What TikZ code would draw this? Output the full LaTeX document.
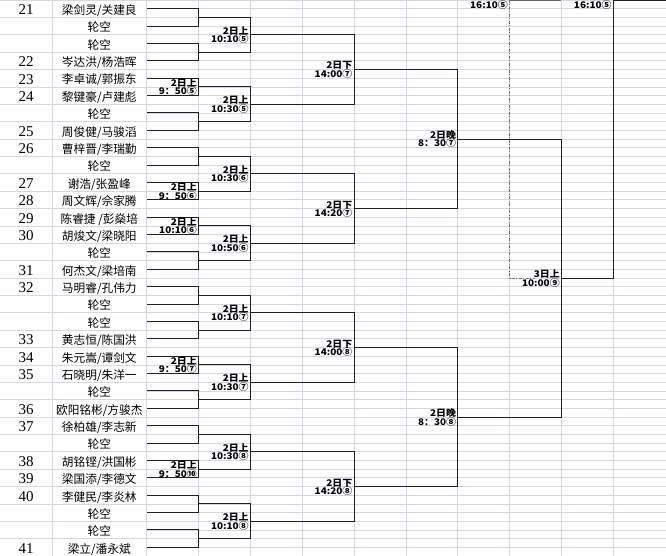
\documentclass[tikz,border=0pt]{standalone}
\usepackage{fontspec}
\setmainfont{Liberation Serif}
\newfontfamily\cjkf{Noto Sans CJK SC}
\newfontfamily\lblf{Noto Sans CJK SC}[FakeStretch=1.08]
\definecolor{gridc}{HTML}{D2D8E6}
\definecolor{linec}{HTML}{202020}
\newcommand\pentry[3]{\node[nm] (t#1) at (99.3,{#1*17.375+14.5}) {#3};
  \node[num] (k#1) at (26,{#1*17.375+14.6}) {#2};}
\newcommand\pbye[1]{\node[nm] (t#1) at (99.3,{#1*17.375+14.5}) {轮空};}
\newcommand\pairbox[1]{\pgfmathtruncatemacro\pb{#1+1}%
  \coordinate (p#1) at (198.54,{(#1+1)*17.375});
  \draw[br] (s#1) -| (p#1) |- (s\pb);
  \draw[br] (p#1) -- ++(51.84,0);}
\newcommand\rtwo[1]{\pgfmathtruncatemacro\pc{#1+2}%
  \coordinate (r#1) at (250.38,{(#1+2)*17.375});
  \draw[br] (p#1) -| (r#1) |- (p\pc);}
\newcommand\twolab[4]{\node[lb] (#1a) at ([shift={(-1.5pt,0.5pt)}]#2) {#3};
  \node[lb] (#1b) at ([shift={(-1.5pt,-8pt)}]#2) {#4};}
\begin{document}
\begin{tikzpicture}[x=1pt,y=-1pt,
  grid/.style={draw=gridc, line width=0.7pt},
  br/.style={draw=linec, line width=0.9pt},
  dd/.style={draw=black!55, line width=0.9pt, dash pattern=on 3pt off 1.5pt on 1pt off 1.5pt},
  num/.style={font=\fontsize{15}{15}\selectfont, anchor=base, inner sep=0pt},
  nm/.style={font=\cjkf\fontsize{11.7}{12}\selectfont, anchor=base, inner sep=0pt},
  lb/.style={font=\lblf\bfseries\fontsize{9.2}{9}\selectfont, anchor=base east, inner sep=0pt}]
\fill[white] (0,0) rectangle (666,556);
\useasboundingbox (0,0) rectangle (666,556);
% grid
\foreach \k in {0,...,31} \draw[grid] (0,{\k*17.375}) -- (146.7,{\k*17.375});
\foreach \k in {0,...,63} \draw[grid] (146.7,{\k*8.6875}) -- (666,{\k*8.6875});
\draw[grid] (52,0) -- (52,556);
\foreach \n in {0,...,9} \draw[grid] ({146.7+\n*51.84},0) -- ({146.7+\n*51.84},556);
% entries
\pentry{0}{21}{梁剑灵/关建良}
\pbye{1}
\pbye{2}
\pentry{3}{22}{岑达洪/杨浩晖}
\pentry{4}{23}{李卓诚/郭振东}
\pentry{5}{24}{黎键豪/卢建彪}
\pbye{6}
\pentry{7}{25}{周俊健/马骏滔}
\pentry{8}{26}{曹梓晋/李瑞勤}
\pbye{9}
\pentry{10}{27}{谢浩/张盈峰}
\pentry{11}{28}{周文辉/佘家腾}
\pentry{12}{29}{陈睿捷 /彭燊培}
\pentry{13}{30}{胡焌文/梁晓阳}
\pbye{14}
\pentry{15}{31}{何杰文/梁培南}
\pentry{16}{32}{马明睿/孔伟力}
\pbye{17}
\pbye{18}
\pentry{19}{33}{黄志恒/陈国洪}
\pentry{20}{34}{朱元嵩/谭剑文}
\pentry{21}{35}{石晓明/朱洋一}
\pbye{22}
\pentry{23}{36}{欧阳铭彬/方骏杰}
\pentry{24}{37}{徐柏雄/李志新}
\pbye{25}
\pentry{26}{38}{胡铭铿/洪国彬}
\pentry{27}{39}{梁国添/李德文}
\pentry{28}{40}{李健民/李炎林}
\pbye{29}
\pbye{30}
\pentry{31}{41}{梁立/潘永斌}
% start points
\foreach \r in {0,...,31} \coordinate (s\r) at (146.7,{\r*17.375+8.6875});
% round 1
\foreach \a in {0,2,4,6,8,10,12,14,16,18,20,22,24,26,28,30} {\pairbox{\a}}
% round 2
\foreach \a in {0,4,8,12,16,20,24,28} {\rtwo{\a}}
% round 3
\coordinate (u0) at (354.06,{4*17.375});
\coordinate (u1) at (354.06,{12*17.375});
\coordinate (u2) at (354.06,{20*17.375});
\coordinate (u3) at (354.06,{28*17.375});
\draw[br] (r0) -| (u0) |- (r4);
\draw[br] (r8) -| (u1) |- (r12);
\draw[br] (r16) -| (u2) |- (r20);
\draw[br] (r24) -| (u3) |- (r28);
% semis
\coordinate (v0) at (457.74,{8*17.375});
\coordinate (v1) at (457.74,{24*17.375});
\draw[br] (u0) -| (v0) |- (u1);
\draw[br] (u2) -| (v1) |- (u3);
% final
\coordinate (w) at (561.42,{16*17.375});
\draw[br] (v0) -| (w) |- (v1);
\coordinate (z) at (613.26,0.5);
\coordinate (zr) at (666,0.5);
\draw[br] (w) -| (z) -- (zr);
\coordinate (zl) at (509.58,0.5);
\coordinate (zm) at (561.42,0.5);
\draw[br, draw=black!60] (zl) -- (zm);
% dash-dot
\coordinate (d0) at (509.58,0);
\coordinate (d1) at (509.58,{16*17.375});
\coordinate (d2) at (535,{16*17.375});
\draw[dd] (d0) -- (d1) -- (d2);
% labels
\twolab{A1}{p4}{2日上}{9：50⑤}
\twolab{A2}{r0}{2日上}{10:10⑤}
\twolab{A3}{r4}{2日上}{10:30⑤}
\twolab{A4}{u0}{2日下}{14:00⑦}
\twolab{B1}{p10}{2日上}{9：50⑥}
\twolab{B2}{p12}{2日上}{10:10⑥}
\twolab{B3}{r8}{2日上}{10:30⑥}
\twolab{B4}{r12}{2日上}{10:50⑥}
\twolab{B5}{u1}{2日下}{14:20⑦}
\twolab{S1}{v0}{2日晚}{8：30⑦}
\twolab{C1}{p20}{2日上}{9：50⑦}
\twolab{C2}{r16}{2日上}{10:10⑦}
\twolab{C3}{r20}{2日上}{10:30⑦}
\twolab{C4}{u2}{2日下}{14:00⑧}
\twolab{D1}{p26}{2日上}{9：50⑩}
\twolab{D2}{r24}{2日上}{10:30⑧}
\twolab{D3}{r28}{2日上}{10:10⑧}
\twolab{D4}{u3}{2日下}{14:20⑧}
\twolab{S2}{v1}{2日晚}{8：30⑧}
\twolab{F1}{w}{3日上}{10:00⑨}
\node[lb] (T1) at (508,8.3) {16:10⑤};
\node[lb] (T2) at (611.8,8.3) {16:10⑤};
\end{tikzpicture}
\end{document}
